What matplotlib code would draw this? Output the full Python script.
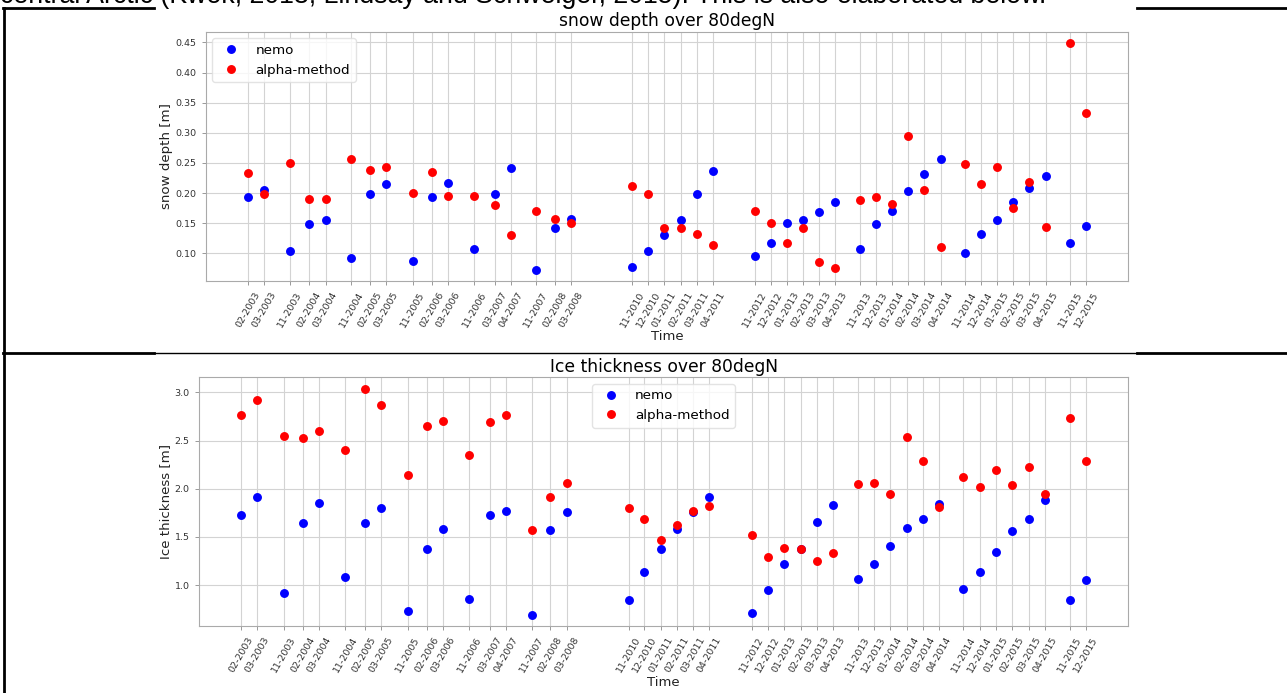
import matplotlib
matplotlib.use("Agg")
import matplotlib.pyplot as plt
from matplotlib.lines import Line2D

# winter months with data (label, time coordinate along the plot axis)
months = ['02-2003', '03-2003', '11-2003', '02-2004', '03-2004', '11-2004', '02-2005', '03-2005',
          '11-2005', '02-2006', '03-2006', '11-2006', '03-2007', '04-2007', '11-2007', '02-2008',
          '03-2008', '11-2010', '12-2010', '01-2011', '02-2011', '03-2011', '04-2011', '11-2012',
          '12-2012', '01-2013', '02-2013', '03-2013', '04-2013', '11-2013', '12-2013', '01-2014',
          '02-2014', '03-2014', '04-2014', '11-2014', '12-2014', '01-2015', '02-2015', '03-2015',
          '04-2015', '11-2015', '12-2015']
t = [0.0, 1.0, 2.62, 3.81, 4.81, 6.40, 7.57, 8.57,
     10.21, 11.38, 12.37, 13.99, 15.25, 16.24, 17.80, 18.95,
     19.95, 23.75, 24.72, 25.71, 26.73, 27.72, 28.70, 31.30,
     32.29, 33.29, 34.29, 35.28, 36.28, 37.78, 38.78, 39.79,
     40.78, 41.77, 42.77, 44.26, 45.26, 46.26, 47.26, 48.26,
     49.26, 50.78, 51.77]

snow_nemo = [0.193, 0.206, 0.104, 0.149, 0.156, 0.092, 0.198, 0.215,
             0.087, 0.194, 0.216, 0.108, 0.198, 0.241, 0.073, 0.142,
             0.157, 0.078, 0.104, 0.130, 0.155, 0.198, 0.237, 0.095,
             0.118, 0.150, 0.155, 0.169, 0.186, 0.108, 0.148, 0.170,
             0.203, 0.232, 0.257, 0.101, 0.133, 0.155, 0.185, 0.208,
             0.228, 0.118, 0.145]
snow_alpha = [0.234, 0.198, 0.250, 0.190, 0.191, 0.256, 0.239, 0.244,
              0.200, 0.235, 0.195, 0.195, 0.180, 0.130, 0.171, 0.157,
              0.151, 0.212, 0.199, 0.142, 0.142, 0.132, 0.114, 0.171,
              0.151, 0.117, 0.142, 0.085, 0.075, 0.189, 0.193, 0.182,
              0.295, 0.205, 0.111, 0.248, 0.215, 0.244, 0.176, 0.218,
              0.144, 0.449, 0.333]

ice_nemo = [1.73, 1.92, 0.92, 1.65, 1.85, 1.08, 1.64, 1.80,
            0.73, 1.38, 1.58, 0.86, 1.73, 1.77, 0.69, 1.57,
            1.76, 0.85, 1.14, 1.38, 1.58, 1.76, 1.91, 0.71,
            0.95, 1.22, 1.37, 1.66, 1.83, 1.06, 1.22, 1.41,
            1.59, 1.69, 1.84, 0.96, 1.14, 1.34, 1.56, 1.69,
            1.88, 0.85, 1.05]
ice_alpha = [2.77, 2.92, 2.55, 2.53, 2.60, 2.40, 3.04, 2.87,
             2.14, 2.65, 2.70, 2.35, 2.69, 2.77, 1.57, 1.91,
             2.06, 1.80, 1.69, 1.47, 1.62, 1.77, 1.82, 1.52,
             1.29, 1.39, 1.38, 1.25, 1.33, 2.05, 2.06, 1.95,
             2.54, 2.29, 1.81, 2.12, 2.02, 2.19, 2.04, 2.23,
             1.95, 2.74, 2.29]

W, H = 1287, 693
fig = plt.figure(figsize=(W / 100, H / 100), dpi=100)


def px(x0, y0, x1, y1):
    # pixel box (from top-left) -> figure fraction rect
    return [x0 / W, 1 - y1 / H, (x1 - x0) / W, (y1 - y0) / H]


def panel(rect, nemo, alpha, title, ylabel, legend_loc):
    ax = fig.add_axes(rect)
    ax.plot(t, nemo, 'o', color='blue', ms=5.4, label='nemo')
    ax.plot(t, alpha, 'o', color='red', ms=5.4, label='alpha-method')
    ax.set_xticks(t)
    ax.set_xticklabels(months, rotation=60, fontsize=6.8)
    ax.tick_params(axis='y', labelsize=6.8)
    ax.tick_params(color='#999999', labelcolor='#333333', length=3, width=0.7)
    ax.grid(True, color='#d3d3d3', lw=0.8)
    for s in ax.spines.values():
        s.set_color('#aaaaaa')
    ax.set_title(title, fontsize=12.3, pad=4)
    ax.set_xlabel('Time', fontsize=9.5, labelpad=1, color='#222222')
    ax.set_ylabel(ylabel, fontsize=9.6, color='#222222', labelpad=2)
    ax.legend(loc=legend_loc, fontsize=9.7, framealpha=0.8, edgecolor='#dddddd')
    return ax


panel(px(205.7, 31.7, 1128.3, 281), snow_nemo, snow_alpha,
      'snow depth over 80degN', 'snow depth [m]', 'upper left')
panel(px(198.7, 377.3, 1128.3, 626.3), ice_nemo, ice_alpha,
      'Ice thickness over 80degN', 'Ice thickness [m]', 'upper center')

# surrounding document: last line of text and table borders
fig.text(0.0, 1 - 3 / H, 'central Arctic (Kwok, 2018; Lindsay and Schweiger, 2015). '
         'This is also elaborated below.', fontsize=19.3, family='Liberation Sans',
         va='baseline', ha='left')


def hline(x0, x1, y, lw):
    fig.add_artist(Line2D([x0 / W, x1 / W], [1 - y / H, 1 - y / H], color='black', lw=lw))


hline(3, 154, 8, 2.0)
hline(1137, W, 8, 2.0)
hline(3, 154, 353, 2.0)
hline(154, 1137, 352.5, 1.0)
hline(1137, W, 353, 2.0)
fig.add_artist(Line2D([4 / W, 4 / W], [1 - 8 / H, 0], color='black', lw=2.0))

fig.savefig('out.png', dpi=100)
